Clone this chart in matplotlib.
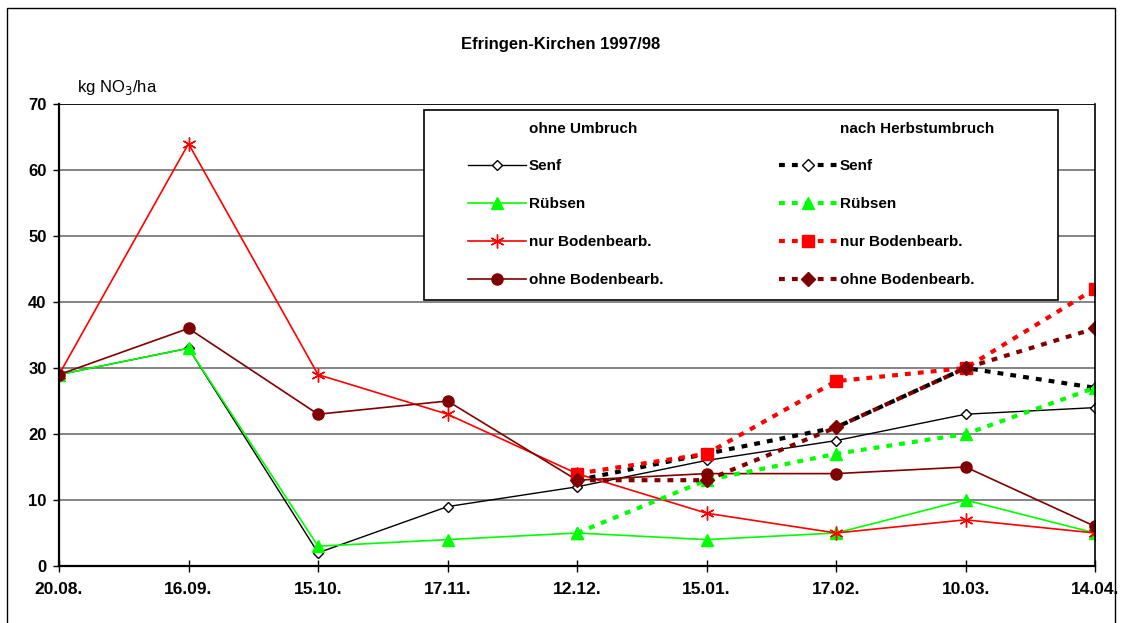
import numpy as np
import matplotlib.pyplot as plt
from matplotlib.lines import Line2D
from matplotlib.patches import Rectangle

plt.rcParams['font.family'] = ['Liberation Sans', 'DejaVu Sans']

# Data
dates = ['20.08.', '16.09.', '15.10.', '17.11.', '12.12.', '15.01.', '17.02.', '10.03.', '14.04.']

# ohne Umbruch (full season)
senf = [29, 33, 2, 9, 12, 16, 19, 23, 24]
ruebsen = [29, 33, 3, 4, 5, 4, 5, 10, 5]
nur_boden = [29, 64, 29, 23, 14, 8, 5, 7, 5]
ohne_boden = [29, 36, 23, 25, 13, 14, 14, 15, 6]

# nach Herbstumbruch (from 12.12. on)
herbst_dates = ['12.12.', '15.01.', '17.02.', '10.03.', '14.04.']
senf_h = [13, 17, 21, 30, 27]
ruebsen_h = [5, 13, 17, 20, 27]
nur_boden_h = [14, 17, 28, 30, 42]
ohne_boden_h = [13, 13, 21, 30, 36]

green = '#00ff00'
red = '#ff0000'
darkred = '#800000'
star = (6, 2, 0)
dash = (0, (1.4, 1.7))

fig = plt.figure(figsize=(11.22, 6.23), dpi=100)
ax = fig.add_axes([0.0526, 0.0915, 0.9234, 0.7415])

x = np.arange(len(dates))
xh = np.array([dates.index(d) for d in herbst_dates])

# solid lines
l1, = ax.plot(x, senf, color='black', lw=1, marker='D', ms=5, mfc='white', mec='black')
l2, = ax.plot(x, ruebsen, color=green, lw=1.2, marker='^', ms=8, mec=green)
l3, = ax.plot(x, nur_boden, color=red, lw=1.2, marker=star, ms=10, mec=red, mew=1)
l4, = ax.plot(x, ohne_boden, color=darkred, lw=1.2, marker='o', ms=8, mec=darkred)

# dashed lines
d1, = ax.plot(xh, senf_h, color='black', lw=3, ls=dash, marker='D', ms=6, mfc='white', mec='black', mew=1)
d2, = ax.plot(xh, ruebsen_h, color=green, lw=3, ls=dash, marker='^', ms=9, mec=green)
d3, = ax.plot(xh, nur_boden_h, color=red, lw=3, ls=dash, marker='s', ms=8, mec=red)
d4, = ax.plot(xh, ohne_boden_h, color=darkred, lw=3, ls=dash, marker='D', ms=7, mec=darkred)

ax.set_xlim(0, len(dates) - 1)
ax.set_ylim(0, 70)
ax.set_xticks(x)
ax.set_xticklabels(dates, fontsize=12.5, fontweight='bold')
ax.set_yticks(np.arange(0, 71, 10))
ax.set_yticklabels([str(v) for v in range(0, 71, 10)], fontsize=12, fontweight='bold')
ax.tick_params(axis='x', direction='inout', length=9, width=1, pad=7)
ax.tick_params(axis='y', direction='out', length=4, width=1, pad=5)
ax.yaxis.grid(True, color='#707070', lw=1.2)
ax.set_axisbelow(True)
for s in ['left', 'bottom']:
    ax.spines[s].set_linewidth(1.6)
ax.spines['top'].set_visible(False)
ax.spines['right'].set_linewidth(1.2)
ax.axhline(70, color='black', lw=1.2, zorder=1)

# legend box
ax.add_patch(Rectangle((0.352, 0.576), 0.612, 0.411, transform=ax.transAxes,
                       facecolor='white', edgecolor='black', lw=1.2, zorder=4))
blank = Line2D([], [], color='none')
handles = [blank, l1, l2, l3, l4, blank, d1, d2, d3, d4]
labels = ['ohne Umbruch', 'Senf', 'Rübsen', 'nur Bodenbearb.', 'ohne Bodenbearb.',
          'nach Herbstumbruch', 'Senf', 'Rübsen', 'nur Bodenbearb.', 'ohne Bodenbearb.']
leg = ax.legend(handles, labels, ncol=2, loc='upper left', bbox_to_anchor=(0.395, 0.962),
                frameon=False, borderpad=0, borderaxespad=0, handlelength=3.8,
                handletextpad=0.15, columnspacing=7.6, labelspacing=1.56,
                prop={'weight': 'bold', 'size': 11})
leg.set_zorder(5)

fig.text(0.5, 0.928, 'Efringen-Kirchen 1997/98', ha='center', va='center',
         fontsize=12, fontweight='bold')
fig.text(0.069, 0.859, 'kg NO$_3$/ha', ha='left', va='center', fontsize=12)

fig.add_artist(Rectangle((0.006, -0.01), 0.988, 0.997, transform=fig.transFigure,
                         facecolor='none', edgecolor='black', lw=1))

fig.savefig('out.png', dpi=100)
